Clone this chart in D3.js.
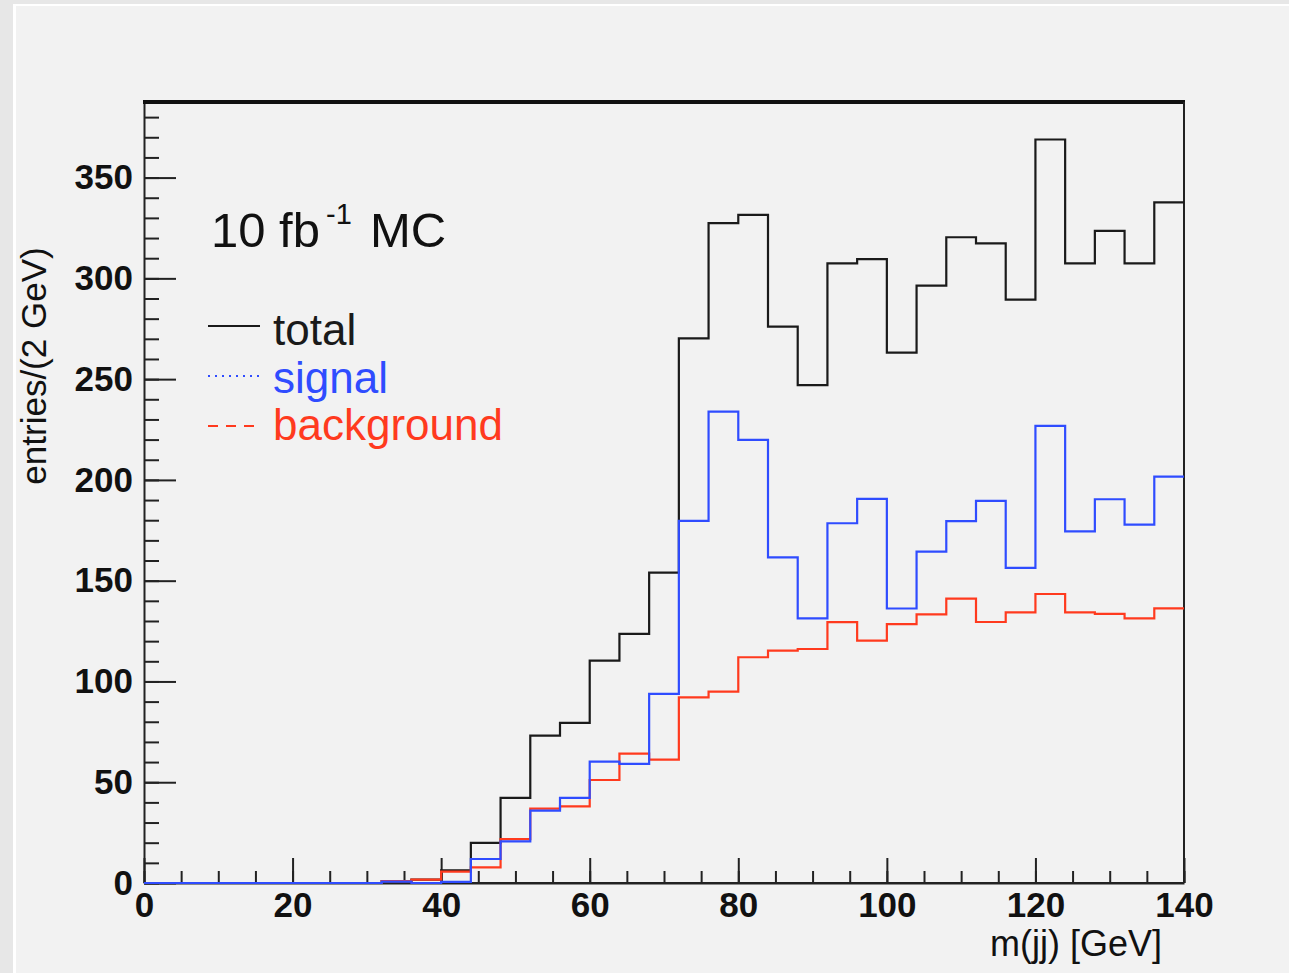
<!DOCTYPE html>
<html>
<head>
<meta charset="utf-8">
<script src="https://cdn.jsdelivr.net/npm/d3@7"></script>
<style>
  html, body { margin: 0; padding: 0; background: #f2f2f2; }
  svg { display: block; }
</style>
</head>
<body>
<div id="chart"></div>
<script>
// bins of 4 GeV from 0 to 140 (lower edges)
var binEdges = d3.range(0, 144, 4);

var total = [0, 0, 0, 0, 0, 0, 0, 0, 1.0, 1.7, 6.3, 19.9, 42.2, 73.1, 79.4, 110.3, 123.6, 154,
  270.2, 327.4, 331.5, 276.1, 247, 307.4, 309.5, 263.2, 296.4, 320.4, 317.4, 289.4, 368.9,
  307.4, 323.6, 307.4, 337.7];
var signal = [0, 0, 0, 0, 0, 0, 0, 0, 0.7, 0, 0.6, 11.9, 20.7, 35.9, 42.2, 60.2, 59.1, 93.8,
  179.7, 233.9, 219.9, 161.6, 131.3, 178.5, 190.6, 136.2, 164.4, 179.5, 189.6, 156.4, 226.8,
  174.5, 190.4, 177.8, 201.6];
var background = [0, 0, 0, 0, 0, 0, 0, 0, 0.9, 1.7, 5.6, 7.8, 21.8, 36.9, 38.0, 51.1, 64.2, 61.2,
  92.1, 95, 112, 115.3, 116.1, 129.4, 120.3, 128.4, 133.3, 141.1, 129.5, 134.3, 143.4,
  134.3, 133.5, 131.3, 136.3];

var xTicks = [0, 20, 40, 60, 80, 100, 120, 140];
var yTicks = [0, 50, 100, 150, 200, 250, 300, 350];
var legendNames = ["total", "signal", "background"];

var W = 1289, H = 973;
var colTotal = "#1a1a1a", colSig = "#2f4cff", colBkg = "#ff3a1e";

var svg = d3.select("#chart").append("svg").attr("width", W).attr("height", H);

// screenshot border
svg.append("rect").attr("x", 0).attr("y", 0).attr("width", W).attr("height", H).attr("fill", "#f2f2f2");
svg.append("rect").attr("x", 0).attr("y", 0).attr("width", 13).attr("height", H).attr("fill", "#e7e7e7");
svg.append("rect").attr("x", 0).attr("y", 0).attr("width", W).attr("height", 4).attr("fill", "#e7e7e7");
svg.append("rect").attr("x", 13).attr("y", 4).attr("width", 3).attr("height", H).attr("fill", "#ffffff");
svg.append("rect").attr("x", 13).attr("y", 4).attr("width", W).attr("height", 2).attr("fill", "#ffffff");

var x = d3.scaleLinear().domain([0, 140]).range([144, 1184]);
var y = d3.scaleLinear().domain([0, 387.5]).range([883, 102]);

var fontFam = "'Liberation Sans', Arial, Helvetica, sans-serif";

// minor ticks
svg.append("g")
  .attr("transform", "translate(" + x(0) + ",0)")
  .call(d3.axisLeft(y).tickValues(d3.range(0, 390, 10)).tickSize(-15).tickFormat(""))
  .call(function (g) { g.select(".domain").remove(); });
svg.append("g")
  .attr("transform", "translate(0," + y(0) + ")")
  .call(d3.axisBottom(x).tickValues(d3.range(0, 141, 5)).tickSize(-12).tickFormat(""))
  .call(function (g) { g.select(".domain").remove(); });

// major ticks + labels
var yAxis = svg.append("g")
  .attr("transform", "translate(" + x(0) + ",0)")
  .call(d3.axisLeft(y).tickValues(yTicks).tickSize(-32).tickPadding(11).tickSizeOuter(0));
var xAxis = svg.append("g")
  .attr("transform", "translate(0," + y(0) + ")")
  .call(d3.axisBottom(x).tickValues(xTicks).tickSize(-25).tickPadding(9).tickSizeOuter(0));

svg.selectAll(".tick line").attr("stroke", "#222").attr("stroke-width", 2);
svg.selectAll(".domain").attr("stroke", "#222").attr("stroke-width", 2);
[xAxis, yAxis].forEach(function (a) {
  a.selectAll("text")
    .style("font-family", fontFam)
    .style("font-size", "35px")
    .style("font-weight", "bold")
    .attr("fill", "#111");
});

// frame
svg.append("line").attr("x1", x(0) - 1).attr("x2", x(140) + 1).attr("y1", y(387.5)).attr("y2", y(387.5))
  .attr("stroke", "#111").attr("stroke-width", 4);
svg.append("line").attr("x1", x(140)).attr("x2", x(140)).attr("y1", y(387.5)).attr("y2", y(0))
  .attr("stroke", "#222").attr("stroke-width", 2);
svg.append("line").attr("x1", x(0)).attr("x2", x(140)).attr("y1", y(0)).attr("y2", y(0))
  .attr("stroke", "#222").attr("stroke-width", 2);

// histograms (drawn over the frame, like ROOT)
var line = d3.line().curve(d3.curveStepAfter)
  .x(function (d) { return x(d[0]); })
  .y(function (d) { return y(d[1]); });

function pts(vals) {
  var p = vals.map(function (v, i) { return [binEdges[i], v]; });
  p.push([140, vals[vals.length - 1]]);
  return p;
}

[[total, colTotal], [background, colBkg], [signal, colSig]].forEach(function (s) {
  svg.append("path")
    .attr("d", line(pts(s[0])))
    .attr("fill", "none")
    .attr("stroke", s[1])
    .attr("stroke-width", 2.2);
});

// axis titles
svg.append("text")
  .attr("transform", "translate(46,366) rotate(-90)")
  .attr("text-anchor", "middle")
  .style("font-family", fontFam)
  .style("font-size", "35px")
  .attr("fill", "#111")
  .text("entries/(2 GeV)");

svg.append("text")
  .attr("x", 1162).attr("y", 956)
  .attr("text-anchor", "end")
  .style("font-family", fontFam)
  .style("font-size", "36px")
  .attr("fill", "#111")
  .text("m(jj) [GeV]");

// label
var lab = svg.append("text")
  .attr("x", 211).attr("y", 247)
  .style("font-family", fontFam)
  .style("font-size", "49px")
  .attr("fill", "#111");
lab.append("tspan").text("10 fb");
lab.append("tspan").attr("dx", 6).attr("dy", -23).style("font-size", "29px").text("-1");
lab.append("tspan").attr("x", 370).attr("dy", 23).text("MC");

// legend
var legCols = [colTotal, colSig, colBkg];
var legDash = [null, "2 5", "10 8"];
legendNames.forEach(function (name, i) {
  svg.append("line")
    .attr("x1", 208).attr("x2", 260)
    .attr("y1", 326 + i * 50).attr("y2", 326 + i * 50)
    .attr("stroke", legCols[i])
    .attr("stroke-width", 2)
    .attr("stroke-dasharray", legDash[i]);
  svg.append("text")
    .attr("x", 273).attr("y", 345 + i * 47.5)
    .style("font-family", fontFam)
    .style("font-size", "44px")
    .attr("fill", legCols[i])
    .text(name);
});
</script>
</body>
</html>
